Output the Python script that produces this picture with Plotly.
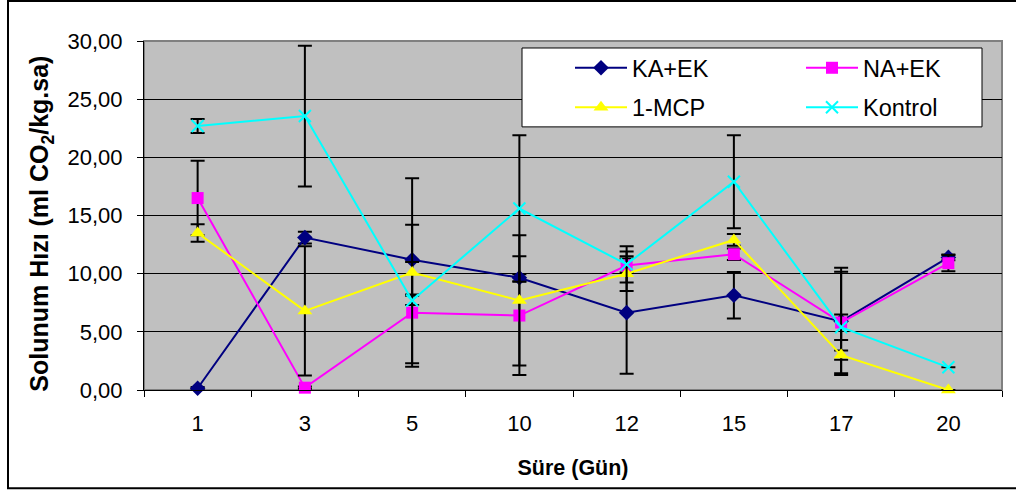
import plotly.graph_objects as go

# Storage days
days = ["1", "3", "5", "10", "12", "15", "17", "20"]

# Respiration rate (ml CO2/kg.h) per treatment and its error
ka_ek = [0.15, 13.1, 11.2, 9.65, 6.65, 8.15, 5.9, 11.4]
ka_ek_err = [0.1, 0.5, 3.0, 0.3, 5.25, 2.0, 4.6, 0.25]

na_ek = [16.5, 0.2, 6.65, 6.4, 10.7, 11.67, 5.8, 10.9]
na_ek_err = [3.2, 0.1, 4.35, 5.1, 0.6, 0.5, 4.37, 0.7]

mcp = [13.5, 6.8, 10.1, 7.7, 10.0, 12.9, 3.0, 0.0]
mcp_err = [0.75, 5.55, 8.1, 5.6, 1.5, 0.5, 0.4, 0.0]

kontrol = [22.7, 23.55, 7.7, 15.6, 10.8, 17.9, 5.4, 1.95]
kontrol_err = [0.6, 6.05, 0.4, 6.3, 1.55, 4.0, 1.1, 0.0]

FONT = "Arial, Liberation Sans, sans-serif"

series = [
    ("KA+EK", ka_ek, ka_ek_err, "#000080", "diamond", 12, "legend", 1),
    ("NA+EK", na_ek, na_ek_err, "#FF00FF", "square", 12, "legend2", 1),
    ("1-MCP", mcp, mcp_err, "#FFFF00", "triangle-up", 13, "legend", 2),
    ("Kontrol", kontrol, kontrol_err, "#00FFFF", "x-thin", 12, "legend2", 2),
]

fig = go.Figure()
for name, vals, errs, color, symbol, size, leg, rank in series:
    marker = dict(symbol=symbol, size=size, color=color)
    if symbol == "x-thin":
        marker["line"] = dict(color=color, width=2)
    fig.add_trace(go.Scatter(
        x=days, y=vals, name=name, mode="lines+markers",
        line=dict(color=color, width=2),
        marker=marker,
        error_y=dict(type="data", array=errs, visible=True,
                     color="black", thickness=2, width=7),
        cliponaxis=False,
        legend=leg, legendgroup=name, legendrank=rank,
    ))

W, H = 1016, 493
L, R, T, B = 144, 14, 41, 102.5
pw, ph = W - L - R, H - T - B


def px(x):
    return (x - L) / pw


def py(y):
    return 1 - (y - T) / ph


legend_common = dict(
    font=dict(family=FONT, size=23.5, color="black"),
    bgcolor="rgba(0,0,0,0)", borderwidth=0,
    xanchor="left", yanchor="top", tracegroupgap=6,
    orientation="v", itemwidth=52,
)

fig.update_layout(
    width=W, height=H,
    margin=dict(l=L, r=R, t=T, b=B),
    paper_bgcolor="white",
    plot_bgcolor="#C0C0C0",
    separators=",.",
    font=dict(family=FONT, size=22, color="black"),
    legend=dict(x=px(570), y=py(46), **legend_common),
    legend2=dict(x=px(801), y=py(46), **legend_common),
    xaxis=dict(
        type="category", range=[-0.5, 7.5],
        showgrid=False, showline=True, linecolor="black", linewidth=1,
        ticks="outside", tickson="boundaries", ticklen=6, tickcolor="black",
        tickfont=dict(family=FONT, size=22), ticklabelstandoff=14,
        title=dict(text="<b>Süre (Gün)</b>", font=dict(family=FONT, size=21.5),
                   standoff=24),
        zeroline=False,
    ),
    yaxis=dict(
        range=[0, 30], dtick=5, tickformat=".2f",
        showgrid=True, gridcolor="black", gridwidth=1,
        showline=True, linecolor="black", linewidth=1,
        ticks="outside", ticklen=6, tickcolor="black",
        tickfont=dict(family=FONT, size=22), ticklabelstandoff=10,
        zeroline=False,
    ),
    annotations=[
        dict(text="<b>Solunum Hızı (ml CO<sub>2</sub>/kg.sa)</b>",
             xref="paper", yref="paper", x=px(41), y=py(224),
             xanchor="center", yanchor="middle", textangle=-90,
             showarrow=False, font=dict(family=FONT, size=25, color="black")),
    ],
    shapes=[
        # plot area frame
        dict(type="rect", xref="paper", yref="paper", x0=0, x1=1, y0=0, y1=1,
             line=dict(color="#808080", width=2), layer="below"),
        # legend box
        dict(type="rect", xref="paper", yref="paper",
             x0=px(522), x1=px(982), y0=py(127), y1=py(48),
             line=dict(color="black", width=1), fillcolor="white", layer="above"),
        # outer chart border
        dict(type="rect", xref="paper", yref="paper",
             x0=px(8), x1=px(1030), y0=py(489), y1=py(1),
             line=dict(color="black", width=2), layer="above"),
    ],
    showlegend=True,
)

fig.write_html("out.html")
